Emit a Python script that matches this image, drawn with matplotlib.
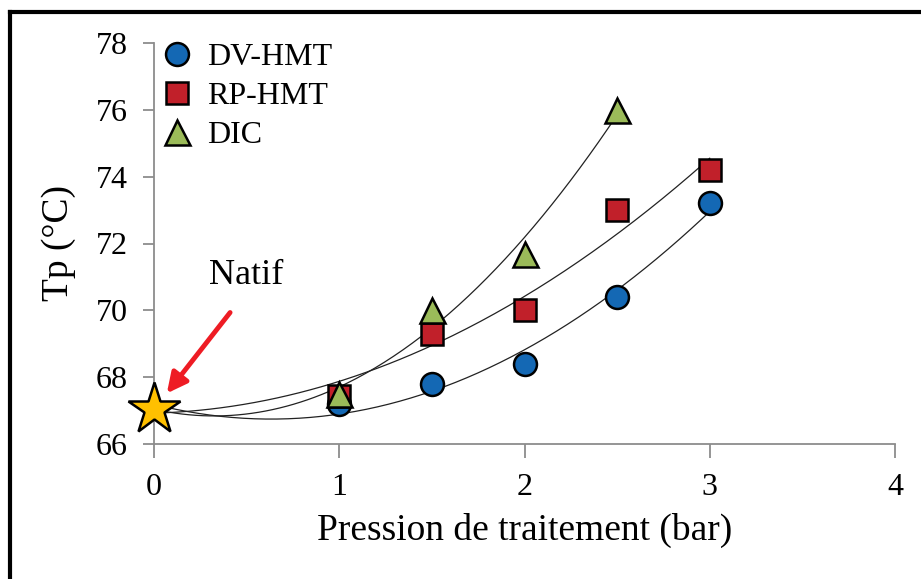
import numpy as np
import matplotlib
matplotlib.use("Agg")
import matplotlib.pyplot as plt
from matplotlib.lines import Line2D

plt.rcParams['font.family'] = ['Liberation Serif', 'DejaVu Serif']

# Data
native_x = [0]
native_y = [67.05]
dv_x = [1, 1.5, 2, 2.5, 3]
dv_y = [67.2, 67.8, 68.4, 70.4, 73.2]
rp_x = [1, 1.5, 2, 2.5, 3]
rp_y = [67.45, 69.3, 70.0, 73.0, 74.2]
dic_x = [1, 1.5, 2, 2.5]
dic_y = [67.5, 70.0, 71.7, 76.0]
labels = ["DV-HMT", "RP-HMT", "DIC"]

fig = plt.figure(figsize=(9.21, 5.79), dpi=100)
ax = fig.add_axes([154/921, 1-444/579, (895-154)/921, (444-43)/579])

# Figure frame (left and top)
fig.add_artist(Line2D([10/921, 10/921], [0, 1-12/579], color='black', lw=3, transform=fig.transFigure))
fig.add_artist(Line2D([10/921, 1], [1-12/579, 1-12/579], color='black', lw=3, transform=fig.transFigure))

colors = ['#1468B4', '#C1202A', '#9BBB59']
markers = ['o', 's', '^']
msizes = [16.5, 15.5, 18]
series = [(dv_x, dv_y), (rp_x, rp_y), (dic_x, dic_y)]

for (xs, ys), c, m, ms, lab in zip(series, colors, markers, msizes, labels):
    fx = np.array(native_x + list(xs))
    fy = np.array(native_y + list(ys))
    p = np.polyfit(fx, fy, 2)
    xx = np.linspace(0, max(xs), 200)
    ax.plot(xx, np.polyval(p, xx), color='#222222', lw=0.9, zorder=2)
for (xs, ys), c, m, ms, lab in zip(series, colors, markers, msizes, labels):
    ax.plot(xs, ys, linestyle='none', marker=m, markersize=ms, markerfacecolor=c,
            markeredgecolor='black', markeredgewidth=1.8, label=lab, zorder=3)

ax.plot(native_x, native_y, linestyle='none', marker='*', markersize=39,
        markerfacecolor='#FFC000', markeredgecolor='black', markeredgewidth=1.8,
        zorder=4, clip_on=False)

ax.set_xlim(0, 4)
ax.set_ylim(66, 78)
ax.set_xticks([0, 1, 2, 3, 4])
ax.set_yticks([66, 68, 70, 72, 74, 76, 78])

for s in ['top', 'right']:
    ax.spines[s].set_visible(False)
for s in ['left', 'bottom']:
    ax.spines[s].set_color('#8C8C8C')
    ax.spines[s].set_linewidth(1.3)
ax.tick_params(axis='both', direction='out', colors='#8C8C8C', width=1.3, labelsize=23,
               labelcolor='black')
ax.tick_params(axis='y', length=8, pad=11)
ax.tick_params(axis='x', length=10, pad=11)

ax.set_xlabel('Pression de traitement (bar)', fontsize=27, labelpad=8)
ax.set_ylabel('Tp (°C)', fontsize=27, labelpad=14)

ax.annotate('', xy=(0.06, 67.45), xytext=(0.42, 70.0),
            arrowprops=dict(arrowstyle='-|>', color='#EE1C24', lw=3.5,
                            mutation_scale=30), zorder=5)
ax.text(0.5, 70.55, 'Natif', fontsize=26, ha='center', va='bottom')

leg = ax.legend(loc='upper left', bbox_to_anchor=(-0.012, 1.033), frameon=False,
                fontsize=23, handletextpad=0.35, labelspacing=0.3, handlelength=1.2,
                borderaxespad=0)

fig.savefig('out.png', dpi=100)
